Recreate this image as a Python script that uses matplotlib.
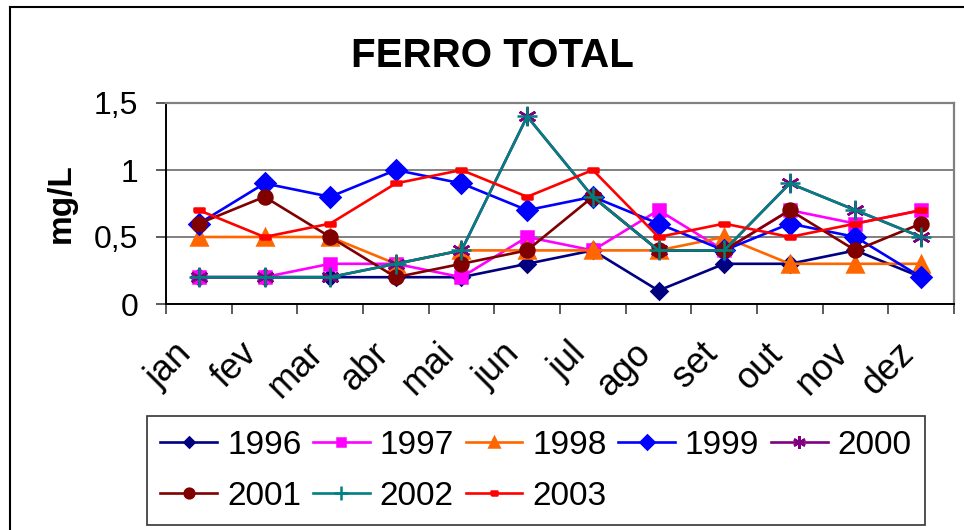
import matplotlib
matplotlib.use('Agg')
import matplotlib.pyplot as plt
from matplotlib.lines import Line2D
from matplotlib.ticker import FixedLocator, FuncFormatter

plt.rcParams['font.family'] = ['Liberation Sans', 'DejaVu Sans']

# dados (mg/L)
meses = ['jan', 'fev', 'mar', 'abr', 'mai', 'jun', 'jul', 'ago', 'set', 'out', 'nov', 'dez']
y1996 = [0.2, 0.2, 0.2, 0.2, 0.2, 0.3, 0.4, 0.1, 0.3, 0.3, 0.4, 0.2]
y1997 = [0.2, 0.2, 0.3, 0.3, 0.2, 0.5, 0.4, 0.7, 0.4, 0.7, 0.6, 0.7]
y1998 = [0.5, 0.5, 0.5, 0.3, 0.4, 0.4, 0.4, 0.4, 0.5, 0.3, 0.3, 0.3]
y1999 = [0.6, 0.9, 0.8, 1.0, 0.9, 0.7, 0.8, 0.6, 0.4, 0.6, 0.5, 0.2]
y2000 = [0.2, 0.2, 0.2, 0.3, 0.4, 1.4, 0.8, 0.4, 0.4, 0.9, 0.7, 0.5]
y2001 = [0.6, 0.8, 0.5, 0.2, 0.3, 0.4, 0.8, 0.4, 0.4, 0.7, 0.4, 0.6]
y2002 = [0.2, 0.2, 0.2, 0.3, 0.4, 1.4, 0.8, 0.4, 0.4, 0.9, 0.7, 0.5]
y2003 = [0.7, 0.5, 0.6, 0.9, 1.0, 0.8, 1.0, 0.5, 0.6, 0.5, 0.6, 0.7]

# marcador retangular pequeno (estilo Excel)
rect = [(-1, -0.5), (1, -0.5), (1, 0.5), (-1, 0.5), (-1, -0.5)]

series = [
    ('1996', y1996, '#000080', 'D', 8),
    ('1997', y1997, '#FF00FF', 's', 9),
    ('1998', y1998, '#FF6600', '^', 11),
    ('1999', y1999, '#0000FF', 'D', 10),
    ('2000', y2000, '#800080', (6, 2, 0), 13),
    ('2001', y2001, '#800000', 'o', 10),
    ('2002', y2002, '#008080', '+', 14),
    ('2003', y2003, '#FF0000', rect, 7),
]

fig = plt.figure(figsize=(9.64, 5.3), dpi=100)
ax = fig.add_axes([166 / 964, 1 - 304 / 530, (954 - 166) / 964, (304 - 103) / 530])

x = list(range(len(meses)))
linhas = {}
for nome, vals, cor, mk, ms in series:
    ln, = ax.plot(x, vals, color=cor, linewidth=1.9, marker=mk, markersize=ms,
                  markerfacecolor=cor, markeredgecolor=cor, markeredgewidth=1.8,
                  label=nome, clip_on=False)
    linhas[nome] = ln

ax.set_xlim(-0.5, 11.5)
ax.set_ylim(0, 1.5)

# grade
ax.set_yticks([0, 0.5, 1, 1.5])
ax.yaxis.set_major_formatter(FuncFormatter(lambda v, p: f'{v:g}'.replace('.', ',')))
ax.grid(True, axis='y', color='#808080', linewidth=1.4)
ax.set_axisbelow(True)

for s in ['top', 'right']:
    ax.spines[s].set_color('#808080')
    ax.spines[s].set_linewidth(1.6)
for s in ['left', 'bottom']:
    ax.spines[s].set_color('black')
    ax.spines[s].set_linewidth(1.4)

# eixo x: marcas entre categorias, rotulos no centro
ax.set_xticks(x)
ax.set_xticklabels(meses, rotation=45, ha='right', va='top')
ax.xaxis.set_minor_locator(FixedLocator([i - 0.5 for i in range(13)]))
ax.tick_params(axis='x', which='major', length=0, pad=23, labelsize=26)
ax.tick_params(axis='x', which='minor', length=7, width=1.2, color='#404040')
ax.tick_params(axis='y', which='major', length=7, width=1.2, color='#404040',
               pad=13, labelsize=23)

ax.set_ylabel('mg/L', fontsize=24, fontweight='bold', labelpad=12)
fig.text(492 / 964, 1 - 56 / 530, 'FERRO TOTAL', fontsize=29, fontweight='bold',
         ha='center', va='center')

# legenda preenchida por linhas (matplotlib preenche por colunas)
ordem = ['1996', '2001', '1997', '2002', '1998', '2003', '1999', '2000']
leg = fig.legend([linhas[k] for k in ordem], ordem, loc='lower left',
                 bbox_to_anchor=(147 / 964, 5 / 530), ncol=5,
                 fontsize=24, frameon=True, fancybox=False, framealpha=1,
                 edgecolor='#333333', borderpad=0.4, handlelength=1.7,
                 handletextpad=0.3, columnspacing=0.35, labelspacing=0.6,
                 markerscale=0.7, borderaxespad=0)
leg.get_frame().set_linewidth(1.2)

# moldura externa do grafico
fig.add_artist(Line2D([10 / 964, 1], [1 - 7 / 530, 1 - 7 / 530], color='black', linewidth=1.5))
fig.add_artist(Line2D([10 / 964, 10 / 964], [0, 1 - 7 / 530], color='black', linewidth=1.5))

plt.savefig('out.png', dpi=100)
plt.close(fig)
